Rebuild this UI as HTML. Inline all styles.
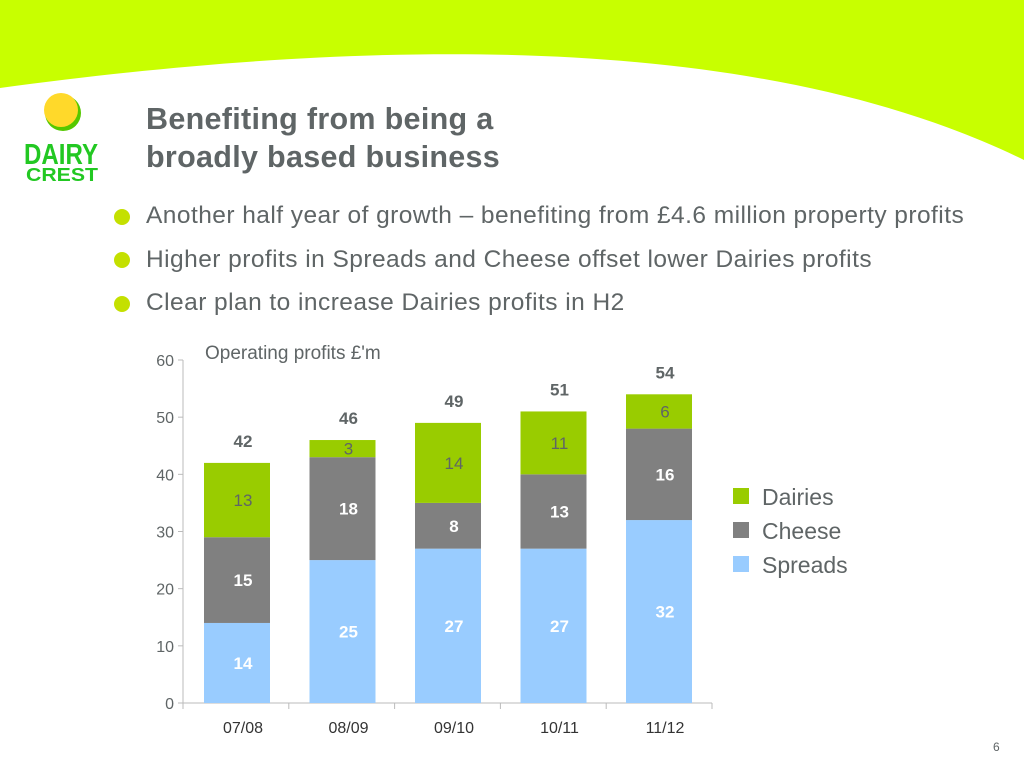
<!DOCTYPE html>
<html><head><meta charset="utf-8"><style>
body{margin:0;width:1024px;height:768px;overflow:hidden;background:#fff;font-family:"Liberation Sans",sans-serif;position:relative}
.t{position:absolute;color:#5f6566;white-space:nowrap}
</style></head><body>
<svg width="1024" height="768" style="position:absolute;left:0;top:0">
<path d="M0 0H1024V160C820 60 500 20 0 88Z" fill="#c8ff00"/>
<g>
<circle cx="63" cy="113" r="18" fill="#55c800"/>
<circle cx="61" cy="110" r="17" fill="#ffd92a"/>
<text x="24" y="164" font-family="Liberation Sans" font-weight="bold" font-size="29" fill="#22c822" textLength="74" lengthAdjust="spacingAndGlyphs">DAIRY</text>
<text x="26" y="181" font-family="Liberation Sans" font-weight="bold" font-size="18" fill="#22c822" textLength="72" lengthAdjust="spacingAndGlyphs">CREST</text>
</g>
<g>
<circle cx="122" cy="217" r="8" fill="#c4e000"/>
<circle cx="122" cy="260" r="8" fill="#c4e000"/>
<circle cx="122" cy="304" r="8" fill="#c4e000"/>
</g>
<g id="chart"></g>
</svg>
<div class="t" style="left:146px;top:100px;font-size:30.5px;font-weight:bold;line-height:38px;letter-spacing:0.3px">Benefiting from being a<br>broadly based business</div>
<div class="t" style="left:146px;top:202px;font-size:24.5px;letter-spacing:0.45px">Another half year of growth – benefiting from £4.6 million property profits</div>
<div class="t" style="left:146px;top:246px;font-size:24.5px;letter-spacing:0.45px">Higher profits in Spreads and Cheese offset lower Dairies profits</div>
<div class="t" style="left:146px;top:289px;font-size:24.5px;letter-spacing:0.45px">Clear plan to increase Dairies profits in H2</div>
<div class="t" style="left:993px;top:740px;font-size:12px">6</div>
<script>
const categories=["07/08","08/09","09/10","10/11","11/12"];
const spreads=[14,25,27,27,32];
const cheese=[15,18,8,13,16];
const dairies=[13,3,14,11,6];
const totals=[42,46,49,51,54];
const yTicks=[0,10,20,30,40,50,60];
const NS="http://www.w3.org/2000/svg";
const g=document.getElementById('chart');
const y=v=>703-v*(343/60);
const x=i=>237+i*105.5;
function mk(tag,a,txt){const e=document.createElementNS(NS,tag);for(const k in a)e.setAttribute(k,a[k]);if(txt!==undefined)e.textContent=txt;g.appendChild(e);return e;}
let ax=mk('line',{x1:183,y1:360,x2:183,y2:703,stroke:'#bbb'});


let bx=mk('line',{x1:183,y1:703,x2:712,y2:703,stroke:'#bbb'});


yTicks.forEach(v=>{
 mk('line',{x1:178,y1:y(v),x2:183,y2:y(v),stroke:'#bbb'});
 let t=mk('text',{x:174,y:y(v)+6,'text-anchor':'end','font-size':16,fill:'#5f6566','font-family':'Liberation Sans'},v);
 
 
});
for(let i=0;i<=categories.length;i++)mk('line',{x1:183+i*105.8,y1:703,x2:183+i*105.8,y2:709,stroke:'#bbb'});
let ttl=mk('text',{x:205,y:359,'font-size':19,fill:'#5f6566','font-family':'Liberation Sans'},"Operating profits £'m");


const series=[[spreads,'#99ccff','#fff','bold'],[cheese,'#808080','#fff','bold'],[dairies,'#99cc00','#5f6566','normal']];
categories.forEach((c,i)=>{
 let base=0;
 series.forEach(([arr,col,tc,fw],s)=>{
  const v=arr[i];
  let r=mk('rect',{x:x(i)-33,y:y(base+v),width:66,height:y(base)-y(base+v),fill:col});
  
  
  let t=mk('text',{x:x(i)+6,y:y(base+v/2)+6,'text-anchor':'middle','font-size':17,'font-weight':fw,fill:tc,'font-family':'Liberation Sans'},v);
  
  
  base+=v;
 });
 let tt=mk('text',{x:x(i)+6,y:y(totals[i])-16,'text-anchor':'middle','font-size':17,'font-weight':'bold',fill:'#5f6566','font-family':'Liberation Sans'},totals[i]);
 
 
 let cl=mk('text',{x:x(i)+6,y:733,'text-anchor':'middle','font-size':16,fill:'#333','font-family':'Liberation Sans'},c);
 
 
});
[['Dairies','#99cc00',497],['Cheese','#808080',531],['Spreads','#99ccff',565]].forEach(([n,c,yy])=>{
 let r=mk('rect',{x:733,y:yy-9,width:16,height:16,fill:c});
 
 
 let t=mk('text',{x:762,y:yy+8,'font-size':23,fill:'#5f6566','font-family':'Liberation Sans'},n);
 
 
});
</script>
</body></html>
